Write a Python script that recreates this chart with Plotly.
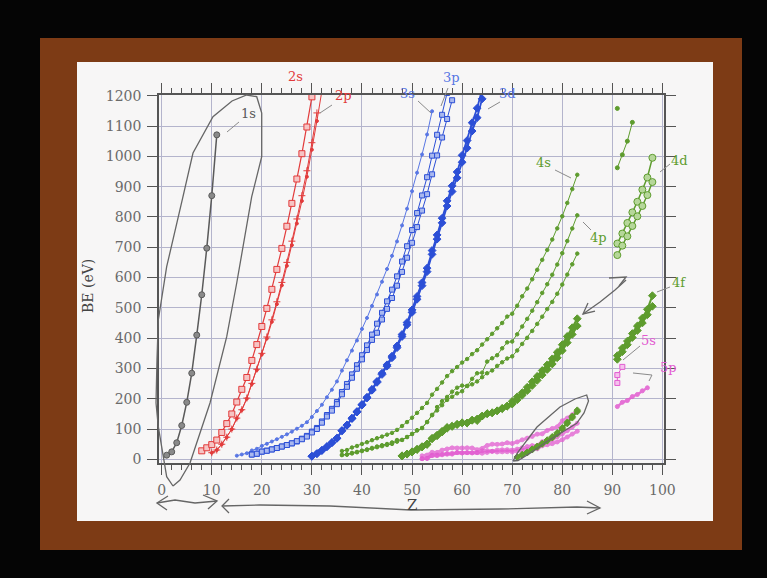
import plotly.graph_objects as go

# ---------------- data (binding energy, eV) ----------------
z_1s = list(range(1, 12))
be_1s = [13.6, 24.6, 54.7, 111.5, 188, 284.2, 409.9, 543.1, 696.7, 870.2, 1070.8]

z_2s = list(range(8, 31))
be_2s = [28, 38, 48.5, 63.5, 88.6, 117.8, 149.7, 189, 230.9, 270, 326.3, 378.6, 438.4, 498,
         560.9, 626.7, 696, 769.1, 844.6, 925.1, 1008.6, 1096.7, 1196.2]
z_2p1 = list(range(10, 32))
be_2p1 = [21.7, 30.65, 49.78, 72.9, 99.82, 136, 163.6, 202, 250.6, 297.3, 349.7, 403.6, 460.2,
          519.8, 583.8, 649.9, 719.9, 793.2, 870, 952.3, 1044.9, 1143.2]
z_2p3 = list(range(10, 33))
be_2p3 = [21.6, 30.6, 49.5, 72.55, 99.42, 135, 162.5, 200, 248.4, 294.6, 346.2, 398.7, 453.8,
          512.1, 574.1, 638.7, 706.8, 778.1, 852.7, 932.7, 1021.8, 1116.4, 1217]

z_3s = list(range(15, 55))
be_3s = [12, 16, 20, 29.3, 34.8, 44.3, 51.1, 58.7, 66.3, 74.1, 82.3, 91.3, 101, 110.8, 122.5,
         139.8, 159.5, 180.1, 204.7, 229.6, 257, 292.8, 326.7, 358.7, 392, 430.3, 466.6, 506.3,
         544, 586.1, 628.1, 671.6, 719, 772, 827.2, 884.7, 946, 1006, 1072, 1148.7]
z_3p1 = list(range(18, 58))
be_3p1 = [15.9, 18.3, 25.4, 28.3, 32.6, 37.2, 42.2, 47.2, 52.7, 58.9, 68, 77.3, 91.4, 103.5,
          124.9, 146.2, 166.5, 189, 222.2, 248.7, 280.3, 310.6, 343.5, 376.1, 411.6, 447.6,
          483.5, 521.3, 559.9, 603.8, 652.6, 703.2, 756.5, 812.7, 870.8, 931, 1002.1, 1071,
          1137, 1209]
z_3p3 = list(range(18, 59))
be_3p3 = [15.7, 18.3, 25.4, 28.3, 32.6, 37.2, 42.2, 47.2, 52.7, 59.9, 66.2, 75.1, 88.6, 100,
          120.8, 141.2, 160.7, 182, 214.4, 239.1, 269.1, 298.8, 329.8, 360.6, 394, 417.7, 461.4,
          496.5, 532.3, 573, 618.4, 665.3, 714.6, 766.4, 820.8, 875, 940.6, 1002.8, 1062, 1123,
          1185]
z_3d = list(range(30, 65))
be_3d3 = [10.2, 18.7, 29.8, 41.7, 55.5, 70, 95, 113, 136, 157.7, 181.1, 205, 231.1, 257, 284.2,
          311.9, 340.5, 374, 411.9, 451.4, 493.2, 537.5, 583.4, 630.8, 689, 740.5, 795.7, 853,
          902.4, 948.3, 1003.3, 1052, 1110.9, 1158.6, 1221.9]
be_3d5 = [10.1, 18.7, 29, 41.7, 54.6, 69, 93.8, 112, 134.2, 155.8, 178.8, 202.3, 227.9, 253.9,
          280, 307.2, 335.2, 368.3, 405.2, 443.9, 484.9, 528.2, 573, 619.3, 676.4, 726.6, 780.5,
          836, 883.8, 928.8, 980.4, 1027, 1083.4, 1127.5, 1189.6]

z_4sp = list(range(36, 84))
be_4s = [27.5, 30.5, 38.9, 43.8, 50.6, 56.4, 63.2, 69.5, 75, 81.4, 87.1, 97, 109.8, 122.9, 137.1,
         153.2, 169.4, 186, 213.2, 232.3, 253.5, 274.7, 291, 304.5, 319.2, 331, 347.2, 360, 378.6,
         396, 414.2, 432.4, 449.8, 470.9, 480.5, 506.8, 538, 563.4, 594.1, 625.4, 658.2, 691.1,
         725.4, 762.1, 802.2, 846.2, 891.8, 939]
be_4p1 = [14.1, 16.3, 21.3, 24.4, 28.5, 32.6, 37.6, 42.3, 46.5, 50.5, 55.7, 63.7, 63.9, 73.5,
          83.6, 95.6, 103.3, 123, 146.7, 172.4, 192, 205.8, 223.2, 236.3, 243.3, 242, 265.6, 284,
          286, 322.4, 333.5, 343.5, 366.2, 385.9, 388.7, 412.4, 438.2, 463.4, 490.4, 518.7,
          549.1, 577.8, 609.1, 642.7, 680.2, 720.5, 761.9, 805.2]
be_4p3 = [14.1, 15.3, 19.3, 23.1, 27.1, 30.8, 35.5, 39.9, 43.2, 47.3, 50.9, 58.3, 63.9, 73.5,
          83.6, 95.6, 103.3, 123, 145.5, 161.3, 178.6, 196, 206.5, 217.6, 224.6, 242, 247.4, 257,
          271, 284.1, 293.2, 308.2, 320.2, 332.6, 339.7, 359.2, 380.7, 400.9, 423.6, 446.8,
          470.7, 495.8, 519.4, 546.3, 576.6, 609.5, 643.5, 678.8]
z_4p_hi = [91, 92, 93, 94]
be_4p_hi = [962, 1005, 1050, 1112]
z_4p_dot = [91]
be_4p_dot = [1158]

z_4d = list(range(48, 84))
be_4d3 = [11.7, 17.7, 24.9, 33.3, 41.9, 50.6, 69.5, 79.8, 92.6, 105.3, 109, 115.1, 120.5, 120,
          129, 133, 142.6, 150.5, 153.6, 160, 167.6, 175.5, 191.2, 206.1, 220, 237.9, 255.9,
          273.9, 293.1, 311.9, 331.6, 353.2, 378.2, 405.7, 434.3, 464]
be_4d5 = [10.7, 16.9, 23.9, 32.1, 40.4, 48.9, 67.5, 77.5, 89.9, 102.5, 109, 115.1, 120.5, 120,
          129, 127.7, 142.6, 150.5, 153.6, 160, 167.6, 175.5, 182.4, 196.3, 211.5, 226.4, 243.5,
          260.5, 278.5, 296.3, 314.6, 335.1, 358.8, 385, 412.2, 440.1]
z_4d_hi = list(range(91, 99))
be_4d3_hi = [712, 745, 780, 815, 850, 890, 930, 995]
be_4d5_hi = [674, 705, 736, 770, 802, 836, 872, 915]

z_4f = list(range(71, 84))
be_4f7 = [7.5, 14.2, 21.6, 31.4, 40.5, 50.7, 60.8, 71.2, 84, 99.9, 117.8, 136.9, 157]
be_4f5 = [7.5, 15.9, 23.5, 33.6, 42.9, 52.4, 63.8, 74.5, 87.6, 104, 122.2, 141.7, 162.3]
z_4f_hi = list(range(91, 99))
be_4f7_hi = [330, 355, 378, 402, 425, 450, 477, 505]
be_4f5_hi = [342, 367, 390, 415, 440, 466, 495, 540]

z_5 = list(range(52, 84))
be_5s = [11.6, 14, 23.3, 22.7, 30.3, 34.3, 37.8, 37.4, 37.5, 38, 37.4, 31.8, 36, 45.6, 49.9,
         49.3, 50.6, 54.7, 52, 57.3, 64.2, 69.7, 75.6, 83, 84, 95.2, 101.7, 107.2, 127, 136,
         147, 159.3]
be_5p1 = [2, 3, 13.4, 14.2, 17, 19.3, 19.8, 22.3, 21.1, 22, 21.3, 22, 28, 28.7, 26.3, 30.8, 31.4,
          31.8, 30.3, 33.6, 38, 42.2, 45.3, 45.6, 58, 63, 65.3, 74.2, 83.1, 94.6, 106.4, 119]
be_5p3 = [2, 3, 12.1, 12.1, 14.8, 16.8, 17, 22.3, 21.1, 22, 21.3, 22, 20, 22.6, 26.3, 24.1,
          24.7, 25, 24.1, 26.7, 29.9, 32.7, 36.8, 34.6, 44.5, 48, 51.7, 57.2, 64.5, 73.5, 83.3,
          92.6]
z_5s_hi = [91, 91, 92]
be_5s_hi = [252, 278, 305]
z_5p_hi = list(range(91, 98))
be_5p_hi = [174, 188, 194, 207, 214, 226, 236]

x_ticks = [0, 10, 20, 30, 40, 50, 60, 70, 80, 90, 100]
y_ticks = [0, 100, 200, 300, 400, 500, 600, 700, 800, 900, 1000, 1100, 1200]

# ---------------- styling ----------------
GRAY = "#5a5a5a"
RED = "#e23b3b"
BLUE = "#2c4fd6"
LBLUE = "#5876e4"
GREEN = "#5e9c2e"
PINK = "#e25ad0"
SERIF = "DejaVu Serif"

fig = go.Figure()


def add(x, y, color, width=1.2, symbol="circle", size=5, fill=None, opacity=1.0):
    fig.add_trace(go.Scatter(
        x=x, y=y, mode="lines+markers", opacity=opacity,
        line=dict(color=color, width=width),
        marker=dict(symbol=symbol, size=size, color=fill if fill else color,
                    line=dict(color=color, width=1)),
        hoverinfo="skip"))


add(z_1s, be_1s, GRAY, 1.5, "circle", 6, "#8a8a8a")
add(z_2s, be_2s, RED, 1.2, "square", 6, "#f6c4c4")
add(z_2p1, be_2p1, RED, 1.0, "cross-thin", 5)
add(z_2p3, be_2p3, RED, 1.0, "circle", 3)
add(z_3s, be_3s, LBLUE, 1.0, "circle", 3)
add(z_3p1, be_3p1, BLUE, 1.0, "square", 5, "#a9b8ef")
add(z_3p3, be_3p3, BLUE, 1.0, "square", 5, "#a9b8ef")
add(z_3d, be_3d3, BLUE, 1.8, "diamond", 6)
add(z_3d, be_3d5, BLUE, 1.8, "diamond", 6)
add(z_4sp, be_4s, GREEN, 1.0, "circle", 3.5)
add(z_4sp, be_4p1, GREEN, 1.0, "circle", 3.5)
add(z_4sp, be_4p3, GREEN, 1.0, "circle", 3.5)
add(z_4p_hi, be_4p_hi, GREEN, 1.0, "circle", 4)
add(z_4p_dot, be_4p_dot, GREEN, 1.0, "circle", 4)
add(z_4d, be_4d3, GREEN, 2.2, "diamond", 6)
add(z_4d, be_4d5, GREEN, 2.2, "diamond", 6)
add(z_4d_hi, be_4d3_hi, GREEN, 1.5, "circle", 7, "#b6d79a")
add(z_4d_hi, be_4d5_hi, GREEN, 1.5, "circle", 7, "#b6d79a")
add(z_5, be_5s, PINK, 3.0, "circle", 4, opacity=0.75)
add(z_5, be_5p1, PINK, 3.0, "circle", 4, opacity=0.75)
add(z_5, be_5p3, PINK, 3.0, "circle", 4, opacity=0.75)
add(z_4f, be_4f7, GREEN, 1.5, "diamond", 5)
add(z_4f, be_4f5, GREEN, 1.5, "diamond", 5)
add(z_4f_hi, be_4f7_hi, GREEN, 2.0, "diamond", 6)
add(z_4f_hi, be_4f5_hi, GREEN, 2.0, "diamond", 6)
add(z_5s_hi, be_5s_hi, PINK, 1.0, "square", 5, "#f4c2ec")
add(z_5p_hi, be_5p_hi, PINK, 2.5, "circle", 4, opacity=0.85)

# ---------------- page decoration (photo of a slide) ----------------
L, R, T, B = 159, 664, 95, 463


def P(px, py):
    return (px - L) / (R - L), (B - py) / (B - T)


def path(pts, close=False):
    s = "M " + " L ".join("%.4f,%.4f" % P(x, y) for x, y in pts)
    return s + (" Z" if close else "")


shapes = []
x0, y0 = P(40, 38); x1, y1 = P(742, 550)
shapes.append(dict(type="rect", xref="paper", yref="paper", x0=x0, y0=y0, x1=x1, y1=y1,
                   fillcolor="#7d3b15", line=dict(width=0), layer="below"))
x0, y0 = P(77, 62); x1, y1 = P(713, 521)
shapes.append(dict(type="rect", xref="paper", yref="paper", x0=x0, y0=y0, x1=x1, y1=y1,
                   fillcolor="#f7f6f6", line=dict(width=0), layer="below"))

HAND = dict(color="#666666", width=1.3)
hand_paths = [
    # loop around 1s
    [(173, 486), (166.7, 476.7), (158.3, 426.7), (156, 403), (157, 360), (158.3, 320),
     (166.7, 266.7), (183, 196.7), (193, 153), (213, 116.7), (232, 101), (246.7, 95),
     (256.7, 96.7), (261.7, 113), (261.7, 156.7), (251.7, 196.7), (236.7, 283), (226.7, 336.7),
     (210, 403), (190, 463), (180, 480), (173, 486)],
    # loop around Z=70-83 low levels
    [(513, 461), (518, 452), (537, 427), (560, 407), (575, 399), (586.7, 395), (588.5, 401),
     (584, 413), (576.7, 423.3), (546.7, 441.7), (530, 453.3), (518, 460.5), (513, 461)],
    # double arrow near 4d / 4f
    [(583, 314), (600, 302), (615, 290), (626, 280)],
    [(595, 311), (583, 314), (588, 303)],
    [(609, 278), (626, 277), (619, 286)],
    # bottom arrows
    [(157, 503), (175, 500), (195, 503), (217, 501)],
    [(168, 496), (157, 503), (167, 510)],
    [(203, 495), (217, 501), (208, 509)],
    [(222, 506), (260, 505), (330, 506), (411, 510), (500, 509), (577, 507), (600, 508)],
    [(229, 499), (222, 506), (229, 513)],
    [(587, 501), (600, 508), (587, 514)],
]
for pts in hand_paths:
    shapes.append(dict(type="path", xref="paper", yref="paper", path=path(pts), line=HAND,
                       layer="above"))

labels = [
    ("1s", 248, 113, GRAY, [(239, 122), (227, 132)]),
    ("2s", 295, 76, RED, None),
    ("2p", 343, 96, RED, [(332, 105), (320, 113)]),
    ("3s", 407, 93, LBLUE, [(418, 101), (431, 113)]),
    ("3p", 451, 78, LBLUE, [(448, 88), (441, 106)]),
    ("3d", 507, 93, LBLUE, [(500, 102), (488, 109)]),
    ("4s", 543, 162, GREEN, [(555, 170), (571, 178)]),
    ("4p", 598, 237, GREEN, [(591, 230), (583, 222)]),
    ("4d", 679, 160, GREEN, [(670, 164), (660, 172)]),
    ("4f", 679, 282, GREEN, [(670, 287), (657, 292)]),
    ("5s", 648, 340, PINK, [(640, 346), (623, 360)]),
    ("5p", 668, 367, PINK, [(633, 373), (652, 375), (649, 381)]),
]
annotations = []
for txt, px, py, col, lead in labels:
    ax, ay = P(px, py)
    annotations.append(dict(text=txt, x=ax, y=ay, xref="paper", yref="paper", showarrow=False,
                            xanchor="center", yanchor="middle",
                            font=dict(family=SERIF, size=13, color=col)))
    if lead:
        shapes.append(dict(type="path", xref="paper", yref="paper", path=path(lead),
                           line=dict(color="#8a8a8a", width=1), layer="above"))

ax, ay = P(88, 286)
annotations.append(dict(text="BE (eV)", x=ax, y=ay, xref="paper", yref="paper", showarrow=False,
                        xanchor="center", yanchor="middle",
                        textangle=-90, font=dict(family=SERIF, size=14, color="#444")))
ax, ay = P(412, 505)
annotations.append(dict(text="Z", x=ax, y=ay, xref="paper", yref="paper", showarrow=False,
                        xanchor="center", yanchor="middle",
                        font=dict(family=SERIF, size=15, color="#444")))

axis_common = dict(showline=True, linecolor="#555", linewidth=1.5, mirror="allticks",
                   ticks="outside", ticklen=10, tickwidth=1.2, tickcolor="#555",
                   showgrid=True, gridcolor="#b4b4cc", gridwidth=1, zeroline=False,
                   tickfont=dict(family=SERIF, size=14, color="#6a6a6a"))

fig.update_layout(
    width=767, height=578,
    margin=dict(l=L, r=767 - R, t=T, b=578 - B),
    paper_bgcolor="#050505", plot_bgcolor="#f7f6f6",
    showlegend=False,
    shapes=shapes, annotations=annotations,
    xaxis=dict(range=[-0.54, 100.32], tickvals=x_ticks, ticklabelstandoff=3,
               minor=dict(dtick=2, tick0=0, ticks="outside", ticklen=5, tickcolor="#555",
                          showgrid=False),
               **axis_common),
    yaxis=dict(range=[-12.2, 1202.3], tickvals=y_ticks, ticklabelstandoff=3, **axis_common),
)

fig.write_html("out.html",
               config={"displayModeBar": False},
               post_script="document.body.style.margin='0';"
                           "document.body.style.background='#050505';")
